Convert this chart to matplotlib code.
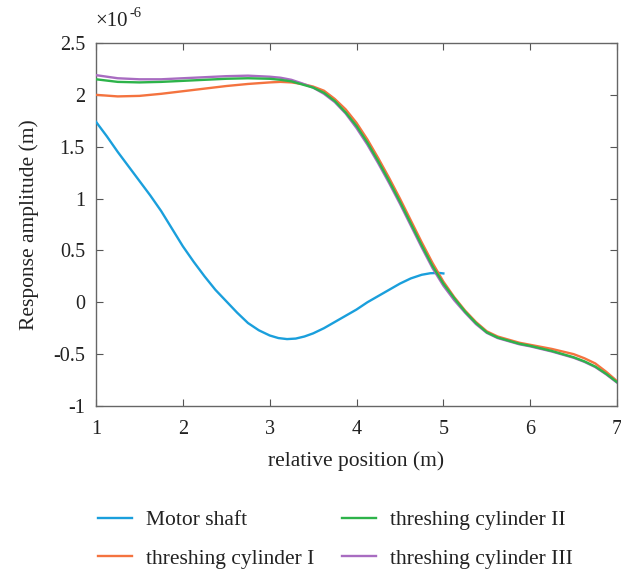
import matplotlib
matplotlib.use("Agg")
import matplotlib.pyplot as plt
from matplotlib.ticker import FixedLocator

plt.rcParams['font.family'] = ['Liberation Serif', 'DejaVu Serif']

# ---- data (values in units of 1e-6 m) ----
x_motor = [1.0, 1.125, 1.25, 1.375, 1.5, 1.625, 1.75, 1.875, 2.0, 2.125, 2.25, 2.375, 2.5,
           2.625, 2.75, 2.875, 3.0, 3.1, 3.2, 3.3, 3.4, 3.5, 3.625, 3.75, 3.875, 4.0, 4.125,
           4.25, 4.375, 4.5, 4.625, 4.75, 4.85, 4.95, 5.0]
y_motor = [1.74, 1.60, 1.45, 1.31, 1.17, 1.03, 0.88, 0.71, 0.54, 0.39, 0.25, 0.12, 0.01,
           -0.10, -0.20, -0.27, -0.32, -0.345, -0.355, -0.35, -0.33, -0.30, -0.25, -0.19, -0.13, -0.07, 0.0,
           0.06, 0.12, 0.18, 0.23, 0.265, 0.28, 0.283, 0.278]

x_cyl = [1.0, 1.25, 1.5, 1.75, 2.0, 2.25, 2.5, 2.75, 3.0, 3.125, 3.25, 3.375, 3.5, 3.625,
         3.75, 3.875, 4.0, 4.125, 4.25, 4.375, 4.5, 4.625, 4.75, 4.875, 5.0, 5.125, 5.25,
         5.375, 5.5, 5.625, 5.75, 5.875, 6.0, 6.125, 6.25, 6.375, 6.5, 6.625, 6.75, 6.875, 7.0]
y_cyl1 = [2.00, 1.985, 1.99, 2.01, 2.035, 2.06, 2.085, 2.105, 2.12, 2.125, 2.12, 2.105, 2.08, 2.04,
          1.96, 1.86, 1.73, 1.57, 1.39, 1.20, 1.00, 0.79, 0.58, 0.38, 0.20, 0.05, -0.08,
          -0.19, -0.28, -0.33, -0.36, -0.39, -0.41, -0.43, -0.45, -0.475, -0.50, -0.54, -0.59, -0.67, -0.76]
y_cyl2 = [2.15, 2.125, 2.12, 2.125, 2.135, 2.145, 2.155, 2.16, 2.155, 2.145, 2.13, 2.10, 2.07, 2.02,
          1.94, 1.83, 1.70, 1.54, 1.36, 1.17, 0.97, 0.76, 0.55, 0.35, 0.18, 0.04, -0.09,
          -0.20, -0.29, -0.34, -0.37, -0.40, -0.42, -0.445, -0.47, -0.50, -0.53, -0.57, -0.62, -0.69, -0.77]
y_cyl3 = [2.19, 2.16, 2.15, 2.15, 2.16, 2.17, 2.18, 2.185, 2.175, 2.165, 2.145, 2.11, 2.07, 2.01,
          1.93, 1.82, 1.68, 1.52, 1.34, 1.15, 0.95, 0.74, 0.53, 0.33, 0.16, 0.02, -0.10,
          -0.21, -0.295, -0.345, -0.375, -0.405, -0.425, -0.45, -0.475, -0.505, -0.535, -0.575, -0.625, -0.695, -0.775]

labels = ["Motor shaft", "threshing cylinder I", "threshing cylinder II", "threshing cylinder III"]
colors = ["#1a9fdc", "#f4733f", "#2db34a", "#a86cc1"]

x_ticks = [1, 2, 3, 4, 5, 6, 7]
y_ticks = [-1, -0.5, 0, 0.5, 1, 1.5, 2, 2.5]
y_ticklabels = ["-1", "-0.5", "0", "0.5", "1", "1.5", "2", "2.5"]

fig = plt.figure(figsize=(6.21, 5.74), dpi=100)
ax = fig.add_axes([0.1546, 0.2927, 0.839, 0.6324])

lw = 1.7
ax.plot(x_motor, y_motor, color=colors[0], lw=lw, label=labels[0], zorder=3)
ax.plot(x_cyl, y_cyl1, color=colors[1], lw=lw, label=labels[1], zorder=3)
ax.plot(x_cyl, y_cyl2, color=colors[2], lw=lw, label=labels[2], zorder=5)
ax.plot(x_cyl, y_cyl3, color=colors[3], lw=lw, label=labels[3], zorder=4)

ax.set_xlim(1, 7)
ax.set_ylim(-1, 2.5)
ax.xaxis.set_major_locator(FixedLocator(x_ticks))
ax.set_yticks(y_ticks)
ax.set_yticklabels(y_ticklabels)
ax.tick_params(direction='in', top=True, right=True, length=5, width=0.8,
               color='#555555', labelsize=14.5, labelcolor='#222222')
ax.tick_params(axis='x', pad=10)
ax.tick_params(axis='y', pad=8)
for s in ax.spines.values():
    s.set_color('#666666')
    s.set_linewidth(1.0)

ax.set_xlabel("relative position (m)", fontsize=15.5, color='#222222', labelpad=9)
ax.set_ylabel("Response amplitude (m)", fontsize=15.5, color='#222222', labelpad=10)

fig.text(95 / 621, 1 - 26 / 574, "×10", fontsize=15, color='#222222', ha='left', va='baseline')
fig.text(130 / 621, 1 - 17 / 574, "-6", fontsize=10.5, color='#222222', ha='left', va='baseline')

fig.legend(loc='upper left', bbox_to_anchor=(0.141, 0.130), ncol=2, frameon=False,
           fontsize=15.5, handlelength=1.58, columnspacing=1.25, labelspacing=0.85,
           handletextpad=0.65, borderpad=0.0, labelcolor='#222222')

fig.savefig("out.png", dpi=100)
